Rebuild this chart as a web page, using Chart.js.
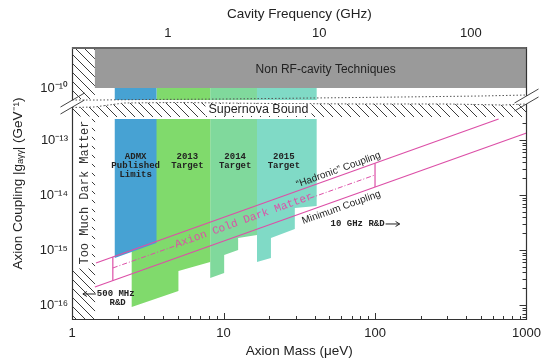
<!DOCTYPE html>
<html><head><meta charset="utf-8">
<script src="https://cdn.jsdelivr.net/npm/chart.js@4.4.1/dist/chart.umd.min.js"></script>
<style>html,body{margin:0;padding:0;background:#fff;}#wrap{width:547px;height:359px;}</style>
</head><body><div id="wrap"><canvas id="c" width="547" height="359"></canvas></div>
<script>
// ===== DATA (mass in μeV, coupling as log10 |g| in GeV^-1) =====
const xTickMasses = [1, 10, 100, 1000];
const xTickLabels = ['1', '10', '100', '1000'];
const freqTicks = [1, 10, 100];
const freqTickLabels = ['1', '10', '100'];
const yTickExponents = [-16, -15, -14, -13, -10];
const yTickLabels = ['10⁻¹⁶', '10⁻¹⁵', '10⁻¹⁴', '10⁻¹³', '10⁻¹⁰'];

// lower section: exclusion / target regions (polygons)
const admxMass  = [1.915, 3.614, 3.614, 1.915];
const admxLogG  = [-12.618, -12.618, -14.873, -15.145];
const t2013Mass = [2.477, 8.17, 8.17, 5.04, 5.04, 2.477];
const t2013LogG = [-12.618, -12.618, -15.218, -15.382, -15.745, -16.036];
const t2014Mass = [8.17, 16.63, 16.63, 12.49, 12.49, 10.1, 10.1, 8.17];
const t2014LogG = [-12.618, -12.618, -14.727, -14.782, -15.0, -15.091, -15.418, -15.509];
const t2015Mass = [16.63, 41.2, 41.2, 29.55, 29.55, 20.56, 20.56, 16.63];
const t2015LogG = [-12.618, -12.618, -14.2, -14.236, -14.618, -14.782, -15.145, -15.218];

// upper section (above the axis break)
const stripLogG = [-10.218, -10.0];
const nonRFMass = [1.416, 1000];
const nonRFLogG = [-10.0, -9.2];
const tooMuchUpperMass = [1, 1.416];
const tooMuchUpperLogG = [-10.2, -9.2];

// too-much-dark-matter strip in lower section (axis units)
const tooMuchLowerMass = [1, 1.42];
const tooMuchLowerAxis = [-16.3, -12.582];

// supernova bound (in the break, axis units)
const snUpperMass = [1, 1.5, 3, 10, 40, 150, 500, 1000];
const snUpperAxis = [-12.273, -12.273, -12.264, -12.255, -12.236, -12.218, -12.2, -12.182];
const snLowerMass = [1, 1.4, 2.2, 5, 20, 80, 300, 700, 1000];
const snLowerAxis = [-12.409, -12.4, -12.327, -12.318, -12.336, -12.345, -12.345, -12.364, -12.345];
const snHatchBottomAxis = -12.582;

// axion model lines
const ksvzMass = [1.44, 654];   const ksvzLogG = [-15.236, -12.618];
const dfszMass = [1.416, 1000]; const dfszLogG = [-15.673, -12.873];
const midAMass = [1.86, 4.9];   const midALogG = [-15.327, -14.917];
const midBMass = [37, 100];     const midBLogG = [-14.060, -13.636];
const boxLMass = [1.86, 1.86];  const boxLLogG = [-15.126, -15.557];
const boxRMass = [100, 100];    const boxRLogG = [-13.422, -13.856];

// text labels
const expLabelText = [['ADMX', 'Published', 'Limits'], ['2013', 'Target'], ['2014', 'Target'], ['2015', 'Target']];
const expLabelMass = [2.63, 5.77, 11.93, 25.02];
const expLabelLogG = [-13.473, -13.391, -13.391, -13.391];

// ===== axis break mapping =====
const UPPER_SHIFT = -2.055;
const toAxis = g => (g > -11 ? g + UPPER_SHIFT : g);
const Y_MIN = -16.273, Y_MAX = -11.309;
const GHZ_PER_UEV = 0.2333;

const pts = (ms, gs, axisUnits) => ms.map((m, i) => ({x: m, y: axisUnits ? gs[i] : toAxis(gs[i])}));
const rect = (m, g, axisUnits) => pts([m[0], m[1], m[1], m[0]], [g[0], g[0], g[1], g[1]], axisUnits);
const polyAbove = (ms, axs, bottom) => ms.map((m, i) => ({x: m, y: axs[i]}))
  .concat([{x: ms[ms.length - 1], y: bottom}, {x: ms[0], y: bottom}]);

const canvas = document.getElementById('c');
const mainCtx = canvas.getContext('2d');
const hatch = (() => {
  const t = document.createElement('canvas'); t.width = 9; t.height = 9;
  const g = t.getContext('2d');
  g.strokeStyle = '#3c3c3c'; g.lineWidth = 1;
  g.beginPath();
  g.moveTo(-1, -1); g.lineTo(10, 10);
  g.moveTo(-1, 8); g.lineTo(1, 10);
  g.moveTo(8, -1); g.lineTo(10, 1);
  g.stroke();
  return mainCtx.createPattern(t, 'repeat');
})();

const C_BLUE = '#47a2d3', C_2013 = '#80da6c', C_2014 = '#80d99c', C_2015 = '#80dac6';
const C_PINK = '#dc4fa7';
const poly = (data, color, order) => ({data, backgroundColor: color, borderColor: 'transparent', borderWidth: 0,
  fill: 'shape', showLine: true, pointRadius: 0, order});
const line = (data, color, order, dash, width) => ({data, borderColor: color, borderWidth: width || 1.2,
  borderDash: dash || [], fill: false, showLine: true, pointRadius: 0, order});

const datasets = [
  poly(rect(tooMuchUpperMass, tooMuchUpperLogG), hatch, 100),
  poly(rect(tooMuchLowerMass, tooMuchLowerAxis, true), hatch, 100),
  poly(polyAbove(snLowerMass, snLowerAxis, snHatchBottomAxis), hatch, 100),
  poly(rect(nonRFMass, nonRFLogG), '#9a9a9a', 90),
  poly(pts(t2015Mass, t2015LogG), C_2015, 80),
  poly(rect([16.63, 41.2], stripLogG), C_2015, 80),
  poly(pts(t2014Mass, t2014LogG), C_2014, 79),
  poly(rect([8.17, 16.63], stripLogG), C_2014, 79),
  poly(pts(t2013Mass, t2013LogG), C_2013, 78),
  poly(rect([3.614, 8.17], stripLogG), C_2013, 78),
  poly(pts(admxMass, admxLogG), C_BLUE, 70),
  poly(rect([1.915, 3.614], stripLogG), C_BLUE, 70),
  line(pts(snUpperMass, snUpperAxis, true), '#555', 60, [1.5, 2], 1),
  line(pts(snLowerMass, snLowerAxis, true), '#555', 60, [1.5, 2], 1),
  line(pts(ksvzMass, ksvzLogG), C_PINK, 50),
  line(pts(dfszMass, dfszLogG), C_PINK, 50),
  line(pts(midAMass, midALogG), C_PINK, 50, [5, 2, 1, 2], 1),
  line(pts(midBMass, midBLogG), C_PINK, 50, [5, 2, 1, 2], 1),
  line(pts(boxLMass, boxLLogG), C_PINK, 50),
  line(pts(boxRMass, boxRLogG), C_PINK, 50)
];

const SANS = '"Liberation Sans", Arial, sans-serif';
const MONO = '"Liberation Mono", "DejaVu Sans Mono", monospace';

const decor = {
  id: 'decor',
  afterDatasetsDraw(chart) {
    const {ctx, chartArea: a} = chart;
    const sx = chart.scales.x, sy = chart.scales.y;
    const X = m => sx.getPixelForValue(m);
    const Y = g => sy.getPixelForValue(toAxis(g));
    const YA = v => sy.getPixelForValue(v);
    const text = (s, px, py, font, color, o) => {
      o = o || {};
      ctx.save(); ctx.translate(px, py); if (o.rot) ctx.rotate(o.rot);
      ctx.font = font; ctx.textAlign = o.align || 'center'; ctx.textBaseline = o.base || 'middle';
      if (o.bg) { const w = ctx.measureText(s).width; ctx.fillStyle = '#fff'; ctx.fillRect(-w / 2 - 3, -6, w + 6, 12); }
      ctx.fillStyle = color; ctx.fillText(s, o.dx || 0, o.dy || 0);
      ctx.restore();
    };
    ctx.save();
    // Too Much Dark Matter (white box over hatch)
    {
      const s = 'Too Much Dark Matter';
      ctx.save(); ctx.translate(X(1.217), YA(-13.955)); ctx.rotate(-Math.PI / 2);
      ctx.font = '12px ' + MONO;
      const w = ctx.measureText(s).width;
      ctx.fillStyle = '#fff'; ctx.fillRect(-w / 2 - 4, -13, w + 8, 20);
      ctx.fillStyle = '#333'; ctx.textAlign = 'center'; ctx.textBaseline = 'middle';
      ctx.fillText(s, 0, 0);
      ctx.restore();
    }
    text('Supernova Bound', X(17.0), YA(-12.4545), '12.5px ' + SANS, '#222', {bg: true});
    text('Non RF-cavity Techniques', X(47.2), Y(-9.672), '12px ' + SANS, '#222');
    expLabelText.forEach((lines, i) => {
      const cx = X(expLabelMass[i]), cy = Y(expLabelLogG[i]);
      lines.forEach((s, j) => text(s, cx, cy + (j - (lines.length - 1) / 2) * 9.2, 'bold 9px ' + MONO, '#222'));
    });
    const ang = Math.atan2(Y(ksvzLogG[1]) - Y(ksvzLogG[0]), X(ksvzMass[1]) - X(ksvzMass[0]));
    text('Axion Cold Dark Matter', X(13.67), Y(-14.482), '11px ' + MONO, C_PINK, {rot: ang, dy: -1});
    text('“Hadronic” Coupling', X(59.2), Y(-13.646), '10px ' + SANS, '#222', {rot: ang, base: 'bottom', dy: -1});
    text('Minimum Coupling', X(57.5), Y(-14.092), '10px ' + SANS, '#222', {rot: ang, base: 'top', dy: 3});
    // 10 GHz R&D arrow
    {
      const px = X(50.9), py = Y(-14.527);
      ctx.font = 'bold 9px ' + MONO; const w = ctx.measureText('10 GHz R&D').width;
      text('10 GHz R&D', px, py, 'bold 9px ' + MONO, '#222', {align: 'left'});
      ctx.strokeStyle = '#222'; ctx.lineWidth = 1;
      ctx.beginPath(); ctx.moveTo(px + w + 1, py); ctx.lineTo(px + w + 15, py);
      ctx.moveTo(px + w + 11, py - 2.5); ctx.lineTo(px + w + 15, py); ctx.lineTo(px + w + 11, py + 2.5); ctx.stroke();
    }
    // 500 MHz R&D arrow
    {
      const px = X(1.459), py = Y(-15.8);
      text('500 MHz', px, py, 'bold 9px ' + MONO, '#222', {align: 'left'});
      text('R&D', X(2.0), Y(-15.964), 'bold 9px ' + MONO, '#222');
      ctx.strokeStyle = '#222'; ctx.lineWidth = 1;
      ctx.beginPath(); ctx.moveTo(px - 1, py); ctx.lineTo(X(1.18), py);
      ctx.moveTo(X(1.18) + 4, py - 2.5); ctx.lineTo(X(1.18), py); ctx.lineTo(X(1.18) + 4, py + 2.5); ctx.stroke();
    }
    // ticks (inside)
    ctx.strokeStyle = '#333'; ctx.lineWidth = 1;
    ctx.beginPath();
    [1, 10, 100].forEach(d => { for (let k = 1; k <= 9; k++) { const px = Math.round(X(k * d)) + 0.5; const L = k === 1 ? 7 : 4; ctx.moveTo(px, a.bottom); ctx.lineTo(px, a.bottom - L); } });
    for (let e = -17; e <= -13; e++) for (let k = 1; k <= 9; k++) {
      const v = e + Math.log10(k); if (v < Y_MIN || v > -12.62) continue;
      const py = Math.round(YA(v)) + 0.5; const L = k === 1 ? 7 : 4;
      ctx.moveTo(a.right, py); ctx.lineTo(a.right - L, py);
    }
    ctx.stroke();
    // frame with axis break
    const L = Math.round(a.left) + 0.5, R = Math.round(a.right) - 0.5, B = Math.round(a.bottom) - 0.5, T = a.top;
    const gL = [YA(-12.273), YA(-12.4)], gR = [YA(-12.2), YA(-12.345)];
    ctx.strokeStyle = '#333'; ctx.lineWidth = 1.2;
    ctx.beginPath();
    ctx.moveTo(L, T); ctx.lineTo(L, gL[0]); ctx.moveTo(L, gL[1]); ctx.lineTo(L, B);
    ctx.lineTo(R, B); ctx.lineTo(R, gR[1]); ctx.moveTo(R, gR[0]); ctx.lineTo(R, T);
    ctx.stroke();
    ctx.strokeStyle = '#666'; ctx.lineWidth = 2;
    ctx.beginPath(); ctx.moveTo(a.left, T + 1); ctx.lineTo(a.right, T + 1); ctx.stroke();
    ctx.strokeStyle = '#444'; ctx.lineWidth = 1;
    ctx.beginPath();
    [[L, gL], [R, gR]].forEach(([xx, g]) => g.forEach(yy => { ctx.moveTo(xx - 12, yy + 7); ctx.lineTo(xx + 12, yy - 7); }));
    ctx.stroke();
    ctx.restore();
  }
};

new Chart(canvas, {
  type: 'scatter',
  data: {datasets},
  options: {
    responsive: false, animation: false, devicePixelRatio: 1, events: [],
    layout: {padding: {left: 0, right: 18, top: 0, bottom: 0}},
    plugins: {legend: {display: false}, tooltip: {enabled: false}},
    elements: {line: {tension: 0}},
    scales: {
      x: {
        type: 'logarithmic', position: 'bottom', min: 1, max: 1000,
        grid: {display: false, drawTicks: false}, border: {display: false},
        afterBuildTicks: s => { s.ticks = xTickMasses.map(v => ({value: v})); },
        afterFit: s => { s.height = 39; },
        ticks: {autoSkip: false, maxRotation: 0, padding: 6, color: '#222', font: {family: SANS, size: 13},
          callback: (v, i) => xTickLabels[i]},
        title: {display: true, text: 'Axion Mass (μeV)', color: '#222', font: {family: SANS, size: 13.5}, padding: {top: 0, bottom: 0}}
      },
      x2: {
        type: 'logarithmic', position: 'top', min: 1 * GHZ_PER_UEV, max: 1000 * GHZ_PER_UEV,
        grid: {display: false, drawTicks: false}, border: {display: false},
        afterBuildTicks: s => { s.ticks = freqTicks.map(v => ({value: v})); },
        afterFit: s => { s.height = 47; },
        ticks: {autoSkip: false, maxRotation: 0, padding: 6, color: '#222', font: {family: SANS, size: 13},
          callback: (v, i) => freqTickLabels[i]},
        title: {display: true, text: 'Cavity Frequency (GHz)', color: '#222', font: {family: SANS, size: 13.5}, padding: {top: 6, bottom: 0}}
      },
      y: {
        type: 'linear', position: 'left', min: Y_MIN, max: Y_MAX,
        grid: {display: false, drawTicks: false}, border: {display: false},
        afterBuildTicks: s => { s.ticks = yTickExponents.map(e => ({value: toAxis(e)})); },
        afterFit: s => { s.width = 72; },
        ticks: {autoSkip: false, padding: 4, color: '#222', font: {family: SANS, size: 13},
          callback: (v, i) => yTickLabels[i]},
        title: {display: true, text: 'Axion Coupling |gₐᵧᵧ| (GeV⁻¹)', color: '#222', font: {family: SANS, size: 13.5}, padding: {top: 10, bottom: 0}}
      }
    }
  },
  plugins: [decor]
});
</script></body></html>
